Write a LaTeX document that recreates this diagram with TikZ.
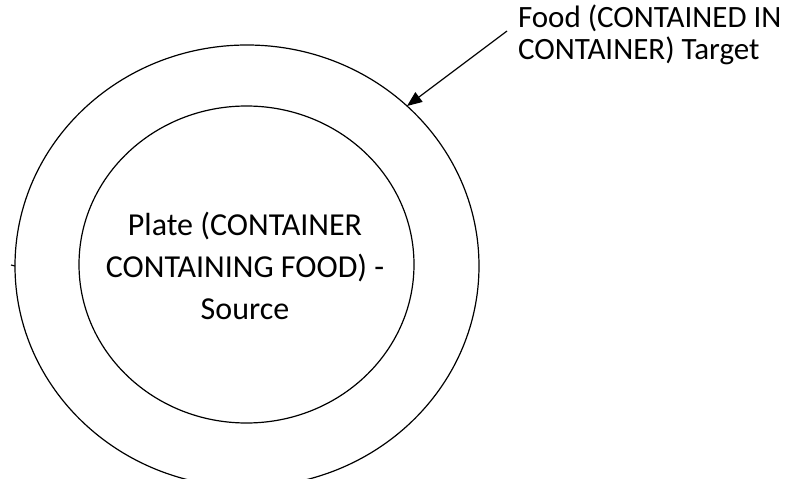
\documentclass[tikz,border=0pt]{standalone}
\usepackage{fontspec}
\setmainfont{Carlito}
\usetikzlibrary{shapes.geometric,arrows.meta}
\begin{document}
\begin{tikzpicture}[x=1pt,y=-1pt,
  ring/.style={draw=black,line width=1.2pt,ellipse,inner sep=0pt,outer sep=0pt},
  platetext/.style={font=\fontsize{32}{42}\selectfont,inner sep=0pt,outer sep=0pt,align=center},
  foodtext/.style={font=\fontsize{31}{32.5}\selectfont,inner sep=0pt,outer sep=0pt,align=left},
  pointer/.style={draw=black,line width=1.2pt,-{Triangle[length=15pt,width=12pt]}}]
  \useasboundingbox[fill=white] (0,0) rectangle (796,479);
  % outer ring (food) and inner ring (plate)
  \node[ring,minimum width=464pt,minimum height=442pt] (outer) at (247,266) {};
  \node[ring,minimum width=335pt,minimum height=317pt] (inner) at (246.5,264.5) {};
  % small stub on the outer ring's left side
  \coordinate (stub) at (11,265);
  \draw[line width=1.2pt] (stub) -- (outer.west);
  % labels
  \node[platetext] (plate) at (245,266) {Plate (CONTAINER\\CONTAINING FOOD) -\\Source};
  \node[foodtext,anchor=west] (food) at (518,35) {Food (CONTAINED IN\\CONTAINER) Target};
  % arrow from the food label to the outer ring
  \coordinate (src) at (507,31);
  \draw[pointer] (src) -- (outer.45.4);
\end{tikzpicture}
\end{document}
